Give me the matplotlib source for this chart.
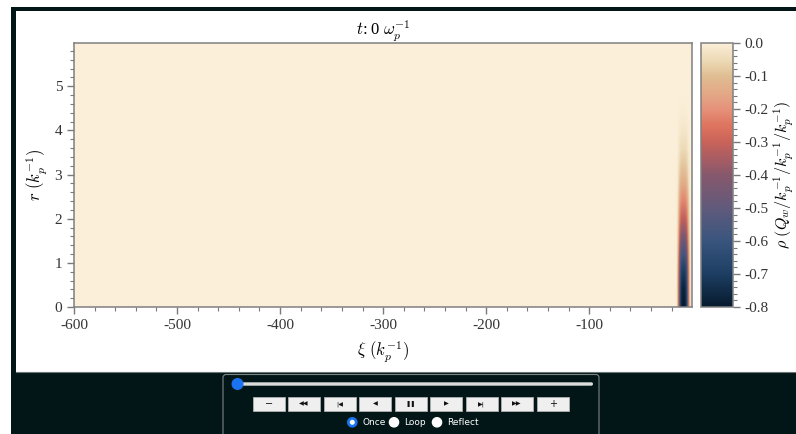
import matplotlib
matplotlib.use("Agg")
import matplotlib.pyplot as plt
import numpy as np
from matplotlib.colors import LinearSegmentedColormap
from matplotlib.patches import Rectangle, FancyBboxPatch, Circle
from matplotlib.ticker import MultipleLocator

# driver charge density at t = 0: longitudinal and radial shape, read off the frame
# (uniform grids: xi every 1 k_p^-1, r every 0.4 k_p^-1)
xi_nodes = [-18, -17, -16, -15, -14, -13, -12, -11, -10, -9, -8, -7, -6, -5, -4, -3, -2, -1, 0]
xi_weight = [0, 0, 0, 0.03, 0.15, 0.4, 0.7, 0.9, 0.98, 1.0, 1.0, 0.98, 0.92, 0.75, 0.45, 0.2, 0.06, 0, 0]
r_nodes = [0, 0.4, 0.8, 1.2, 1.6, 2.0, 2.4, 2.8, 3.2, 3.6, 4.0, 4.4, 4.8, 5.2, 5.6, 6.0]
r_weight = [1.0, 0.97, 0.88, 0.72, 0.55, 0.40, 0.28, 0.18, 0.11, 0.06, 0.03, 0.01, 0, 0, 0, 0]
rho_peak = -0.8

x_ticks = [-600, -500, -400, -300, -200, -100]
y_ticks = [0, 1, 2, 3, 4, 5]
cbar_ticks = [0.0, -0.1, -0.2, -0.3, -0.4, -0.5, -0.6, -0.7, -0.8]

# animation widget under the frame
buttons = ["\u2212", "\u25c0\u25c0", "|\u25c0", "\u25c0", "\u275a\u275a", "\u25b6", "\u25b6|", "\u25b6\u25b6", "+"]
radio_labels = ["Once", "Loop", "Reflect"]

W, H = 796, 434
DARK = "#021617"

plt.rcParams["font.family"] = "serif"
plt.rcParams["font.serif"] = ["Liberation Serif", "DejaVu Serif"]
plt.rcParams["mathtext.fontset"] = "cm"
plt.rcParams["axes.unicode_minus"] = False
plt.rcParams["font.size"] = 11

# reversed "lipari"-like map: cream at 0, navy at the most negative charge
cmap = LinearSegmentedColormap.from_list("lipari_r_like", [
    (0.0, "#061a2d"), (0.125, "#1d3e62"), (0.25, "#39557e"), (0.375, "#615a7c"),
    (0.5, "#87586c"), (0.5625, "#a85c63"), (0.625, "#c9635a"), (0.6875, "#de745f"),
    (0.75, "#e6917a"), (0.8125, "#e3a987"), (0.875, "#dfbd92"), (0.9375, "#eddab6"),
    (1.0, "#fbefd9"),
])

fig = plt.figure(figsize=(W / 100, H / 100), dpi=100, facecolor="white")

# page chrome drawn in pixel coordinates
bg = fig.add_axes([0, 0, 1, 1], zorder=-1)
bg.set_xlim(0, W)
bg.set_ylim(H, 0)
bg.axis("off")
bg.add_patch(Rectangle((11, 7), W - 11, 4, color=DARK, lw=0))
bg.add_patch(Rectangle((11, 7), 5, H - 7, color=DARK, lw=0))
bg.add_patch(Rectangle((11, 372), W - 11, H - 372, color=DARK, lw=0))
bg.plot([16, W], [372, 372], color="#6b7575", lw=0.8)

bg.add_patch(FancyBboxPatch((223, 374.5), 376, 70, boxstyle="round,pad=0,rounding_size=3",
                            facecolor=DARK, edgecolor="#7d8585", lw=0.8))
bg.add_patch(FancyBboxPatch((233, 382.3), 360, 3.4, boxstyle="round,pad=0,rounding_size=1.7",
                            facecolor="#dcdcdc", edgecolor="none"))
bg.add_patch(Circle((237.5, 384), 5.3, color="#1a73f0"))

for i, label in enumerate(buttons):
    x0 = 252.7 + i * 35.5
    bg.add_patch(Rectangle((x0, 396.7), 32, 14, facecolor="#efefef", edgecolor="#b0b0b0", lw=0.6))
    bg.text(x0 + 16, 403.9, label, ha="center", va="center", fontsize=4.5 if i not in (0, 8) else 7,
            family="DejaVu Sans", color="#111111")

radio_x = [352.3, 394, 437]
for i, (x, label) in enumerate(zip(radio_x, radio_labels)):
    if i == 0:
        bg.add_patch(Circle((x, 422.3), 4.6, color="#1a73f0"))
        bg.add_patch(Circle((x, 422.3), 1.8, color="white"))
    else:
        bg.add_patch(Circle((x, 422.3), 4.6, color="white"))
    bg.text(x + 10, 422.8, label, ha="left", va="center", fontsize=6.5,
            family="DejaVu Sans", color="white")

# the density frame
ax = fig.add_axes([74 / W, 1 - 307 / H, (692 - 74) / W, (307 - 43) / H])
cax = fig.add_axes([701 / W, 1 - 307 / H, 32 / W, (307 - 43) / H])
ax.set_facecolor(cmap(1.0))

rho = rho_peak * np.outer(r_weight, xi_weight)
dxi = xi_nodes[1] - xi_nodes[0]
dr = r_nodes[1] - r_nodes[0]
im = ax.imshow(rho, origin="lower", aspect="auto", interpolation="bilinear",
               extent=[xi_nodes[0] - dxi / 2, xi_nodes[-1] + dxi / 2,
                       r_nodes[0] - dr / 2, r_nodes[-1] + dr / 2],
               cmap=cmap, vmin=-0.8, vmax=0.0)

ax.set_xlim(-600, -0.3)
ax.set_ylim(0, 5.98)
ax.set_xticks(x_ticks)
ax.set_yticks(y_ticks)
ax.xaxis.set_minor_locator(MultipleLocator(20))
ax.yaxis.set_minor_locator(MultipleLocator(0.2))
ax.set_xlabel(r"$\xi\ (k_p^{-1})$", fontsize=12, labelpad=5)
ax.set_ylabel(r"$r\ (k_p^{-1})$", fontsize=12, labelpad=4)
ax.set_title(r"$t$: 0 $\omega_p^{-1}$", fontsize=12, pad=1)

cb = fig.colorbar(im, cax=cax)
cb.set_ticks(cbar_ticks)
cb.ax.yaxis.set_minor_locator(MultipleLocator(0.02))
cb.set_label(r"$\rho\ (Q_w/k_p^{-1}/k_p^{-1}/k_p^{-1})$", fontsize=11.5, labelpad=2)
cb.outline.set_edgecolor("#808080")

for a in (ax, cb.ax):
    for s in a.spines.values():
        s.set_edgecolor("#808080")
        s.set_linewidth(1.1)
    a.tick_params(which="major", length=5, width=1, color="#7a7a7a", labelcolor="#333333", labelsize=11)
    a.tick_params(which="minor", length=3, width=0.8, color="#7a7a7a")

fig.savefig("out.png", dpi=100, facecolor="white")
